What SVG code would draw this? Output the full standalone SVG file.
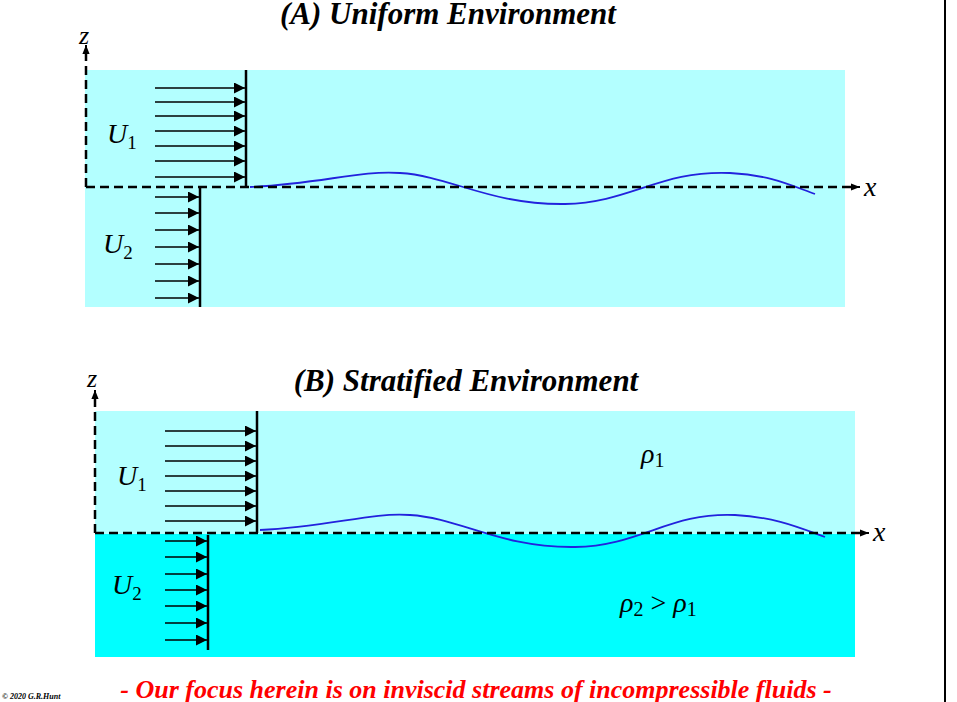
<svg xmlns="http://www.w3.org/2000/svg" width="957" height="702" viewBox="0 0 957 702">
<defs>
<marker id="ah" viewBox="0 0 10 10" refX="10" refY="5" markerWidth="12" markerHeight="11" markerUnits="userSpaceOnUse" orient="auto"><path d="M0,0L10,5L0,10z" fill="#000"/></marker>
<marker id="sa" viewBox="0 0 10 10" refX="10" refY="5" markerWidth="9" markerHeight="9" markerUnits="userSpaceOnUse" orient="auto"><path d="M0,1L10,5L0,9z" fill="#000"/></marker>
<style>
.t{font-family:"Liberation Serif",serif;font-style:italic;fill:#000}
.tb{font-family:"Liberation Serif",serif;font-style:italic;font-weight:bold;font-size:31px;text-anchor:middle}
.ar{stroke:#000;stroke-width:1.5;marker-end:url(#ah)}
.ax{stroke:#000;stroke-width:2.5;stroke-dasharray:9,5;fill:none}
.wall{stroke:#000;stroke-width:2.5}
.wave{stroke:#2222dd;stroke-width:1.8;fill:none}
</style>
</defs>
<rect width="957" height="702" fill="#fff"/>
<line x1="945" y1="0" x2="945" y2="702" stroke="#000" stroke-width="2"/>
<g id="panelA">
<text class="tb" x="448" y="24">(A) Uniform Environment</text>
<rect x="85" y="70" width="760" height="237" fill="#b3ffff"/>
<path class="wave" d="M250,187 C320,184 360,170 400,173 C450,176 490,205 565,204 C630,203 660,170 730,173 C770,175 790,185 815,194"/>
<text class="t" x="79" y="44" font-size="26">z</text>
<text class="t" x="864" y="196" font-size="28">x</text>
<text class="t" x="107" y="143" font-size="28">U<tspan font-style="normal" font-size="19" dy="6">1</tspan></text>
<text class="t" x="103" y="253" font-size="28">U<tspan font-style="normal" font-size="19" dy="6">2</tspan></text>
</g>
<g id="panelB">
<text class="tb" x="466" y="391">(B) Stratified Environment</text>
<rect x="95" y="411" width="760" height="123" fill="#b3ffff"/>
<rect x="95" y="534" width="760" height="123" fill="#00ffff"/>
<path class="wave" d="M260,530 C330,527 370,512 410,515 C460,518 500,548 575,547 C640,546 670,512 735,515 C775,517 800,528 825,537"/>
<text class="t" x="87" y="387" font-size="26">z</text>
<text class="t" x="873" y="541" font-size="28">x</text>
<text class="t" x="117" y="485" font-size="28">U<tspan font-style="normal" font-size="19" dy="6">1</tspan></text>
<text class="t" x="112" y="594" font-size="28">U<tspan font-style="normal" font-size="19" dy="6">2</tspan></text>
<text class="t" x="641" y="463" font-size="28">ρ<tspan font-style="normal" font-size="20" dy="4">1</tspan></text>
<text class="t" x="620" y="612" font-size="28">ρ<tspan font-style="normal" font-size="20" dy="4">2</tspan><tspan font-style="normal" dy="-4"> &gt; </tspan>ρ<tspan font-style="normal" font-size="20" dy="4">1</tspan></text>
</g>
<g id="connectors">
<path class="ax" d="M86,187V52 M86,187H852" />
<line x1="86" y1="52" x2="86" y2="45" stroke="#000" stroke-width="2" marker-end="url(#sa)"/>
<line x1="850" y1="187" x2="860" y2="187" stroke="#000" stroke-width="2" marker-end="url(#sa)"/>
<line class="wall" x1="246" y1="70" x2="246" y2="188"/>
<line class="wall" x1="200" y1="187" x2="200" y2="307"/>
<g class="ar">
<line x1="155" y1="88" x2="245" y2="88"/><line x1="155" y1="102" x2="245" y2="102"/><line x1="155" y1="116" x2="245" y2="116"/><line x1="155" y1="131" x2="245" y2="131"/><line x1="155" y1="146" x2="245" y2="146"/><line x1="155" y1="161" x2="245" y2="161"/><line x1="155" y1="177" x2="245" y2="177"/>
<line x1="155" y1="197" x2="199" y2="197"/><line x1="155" y1="213" x2="199" y2="213"/><line x1="155" y1="230" x2="199" y2="230"/><line x1="155" y1="247" x2="199" y2="247"/><line x1="155" y1="264" x2="199" y2="264"/><line x1="155" y1="281" x2="199" y2="281"/><line x1="155" y1="298" x2="199" y2="298"/>
</g>
<path class="ax" d="M95,533V397 M95,533H861" />
<line x1="95" y1="397" x2="95" y2="390" stroke="#000" stroke-width="2" marker-end="url(#sa)"/>
<line x1="859" y1="533" x2="869" y2="533" stroke="#000" stroke-width="2" marker-end="url(#sa)"/>
<line class="wall" x1="257" y1="411" x2="257" y2="533"/>
<line class="wall" x1="208" y1="535" x2="208" y2="650"/>
<g class="ar">
<line x1="165" y1="431" x2="256" y2="431"/><line x1="165" y1="446" x2="256" y2="446"/><line x1="165" y1="461" x2="256" y2="461"/><line x1="165" y1="476" x2="256" y2="476"/><line x1="165" y1="491" x2="256" y2="491"/><line x1="165" y1="506" x2="256" y2="506"/><line x1="165" y1="521" x2="256" y2="521"/>
<line x1="165" y1="541" x2="207" y2="541"/><line x1="165" y1="557" x2="207" y2="557"/><line x1="165" y1="574" x2="207" y2="574"/><line x1="165" y1="590" x2="207" y2="590"/><line x1="165" y1="606" x2="207" y2="606"/><line x1="165" y1="623" x2="207" y2="623"/><line x1="165" y1="640" x2="207" y2="640"/>
</g>
</g>
<text x="476" y="698" font-family="Liberation Serif,serif" font-style="italic" font-weight="bold" font-size="26" fill="#ff0000" text-anchor="middle">- Our focus herein is on inviscid streams of incompressible fluids -</text>
<text x="2" y="699" font-family="Liberation Serif,serif" font-style="italic" font-weight="bold" font-size="8" fill="#000">© 2020 G.R.Hunt</text>
</svg>
